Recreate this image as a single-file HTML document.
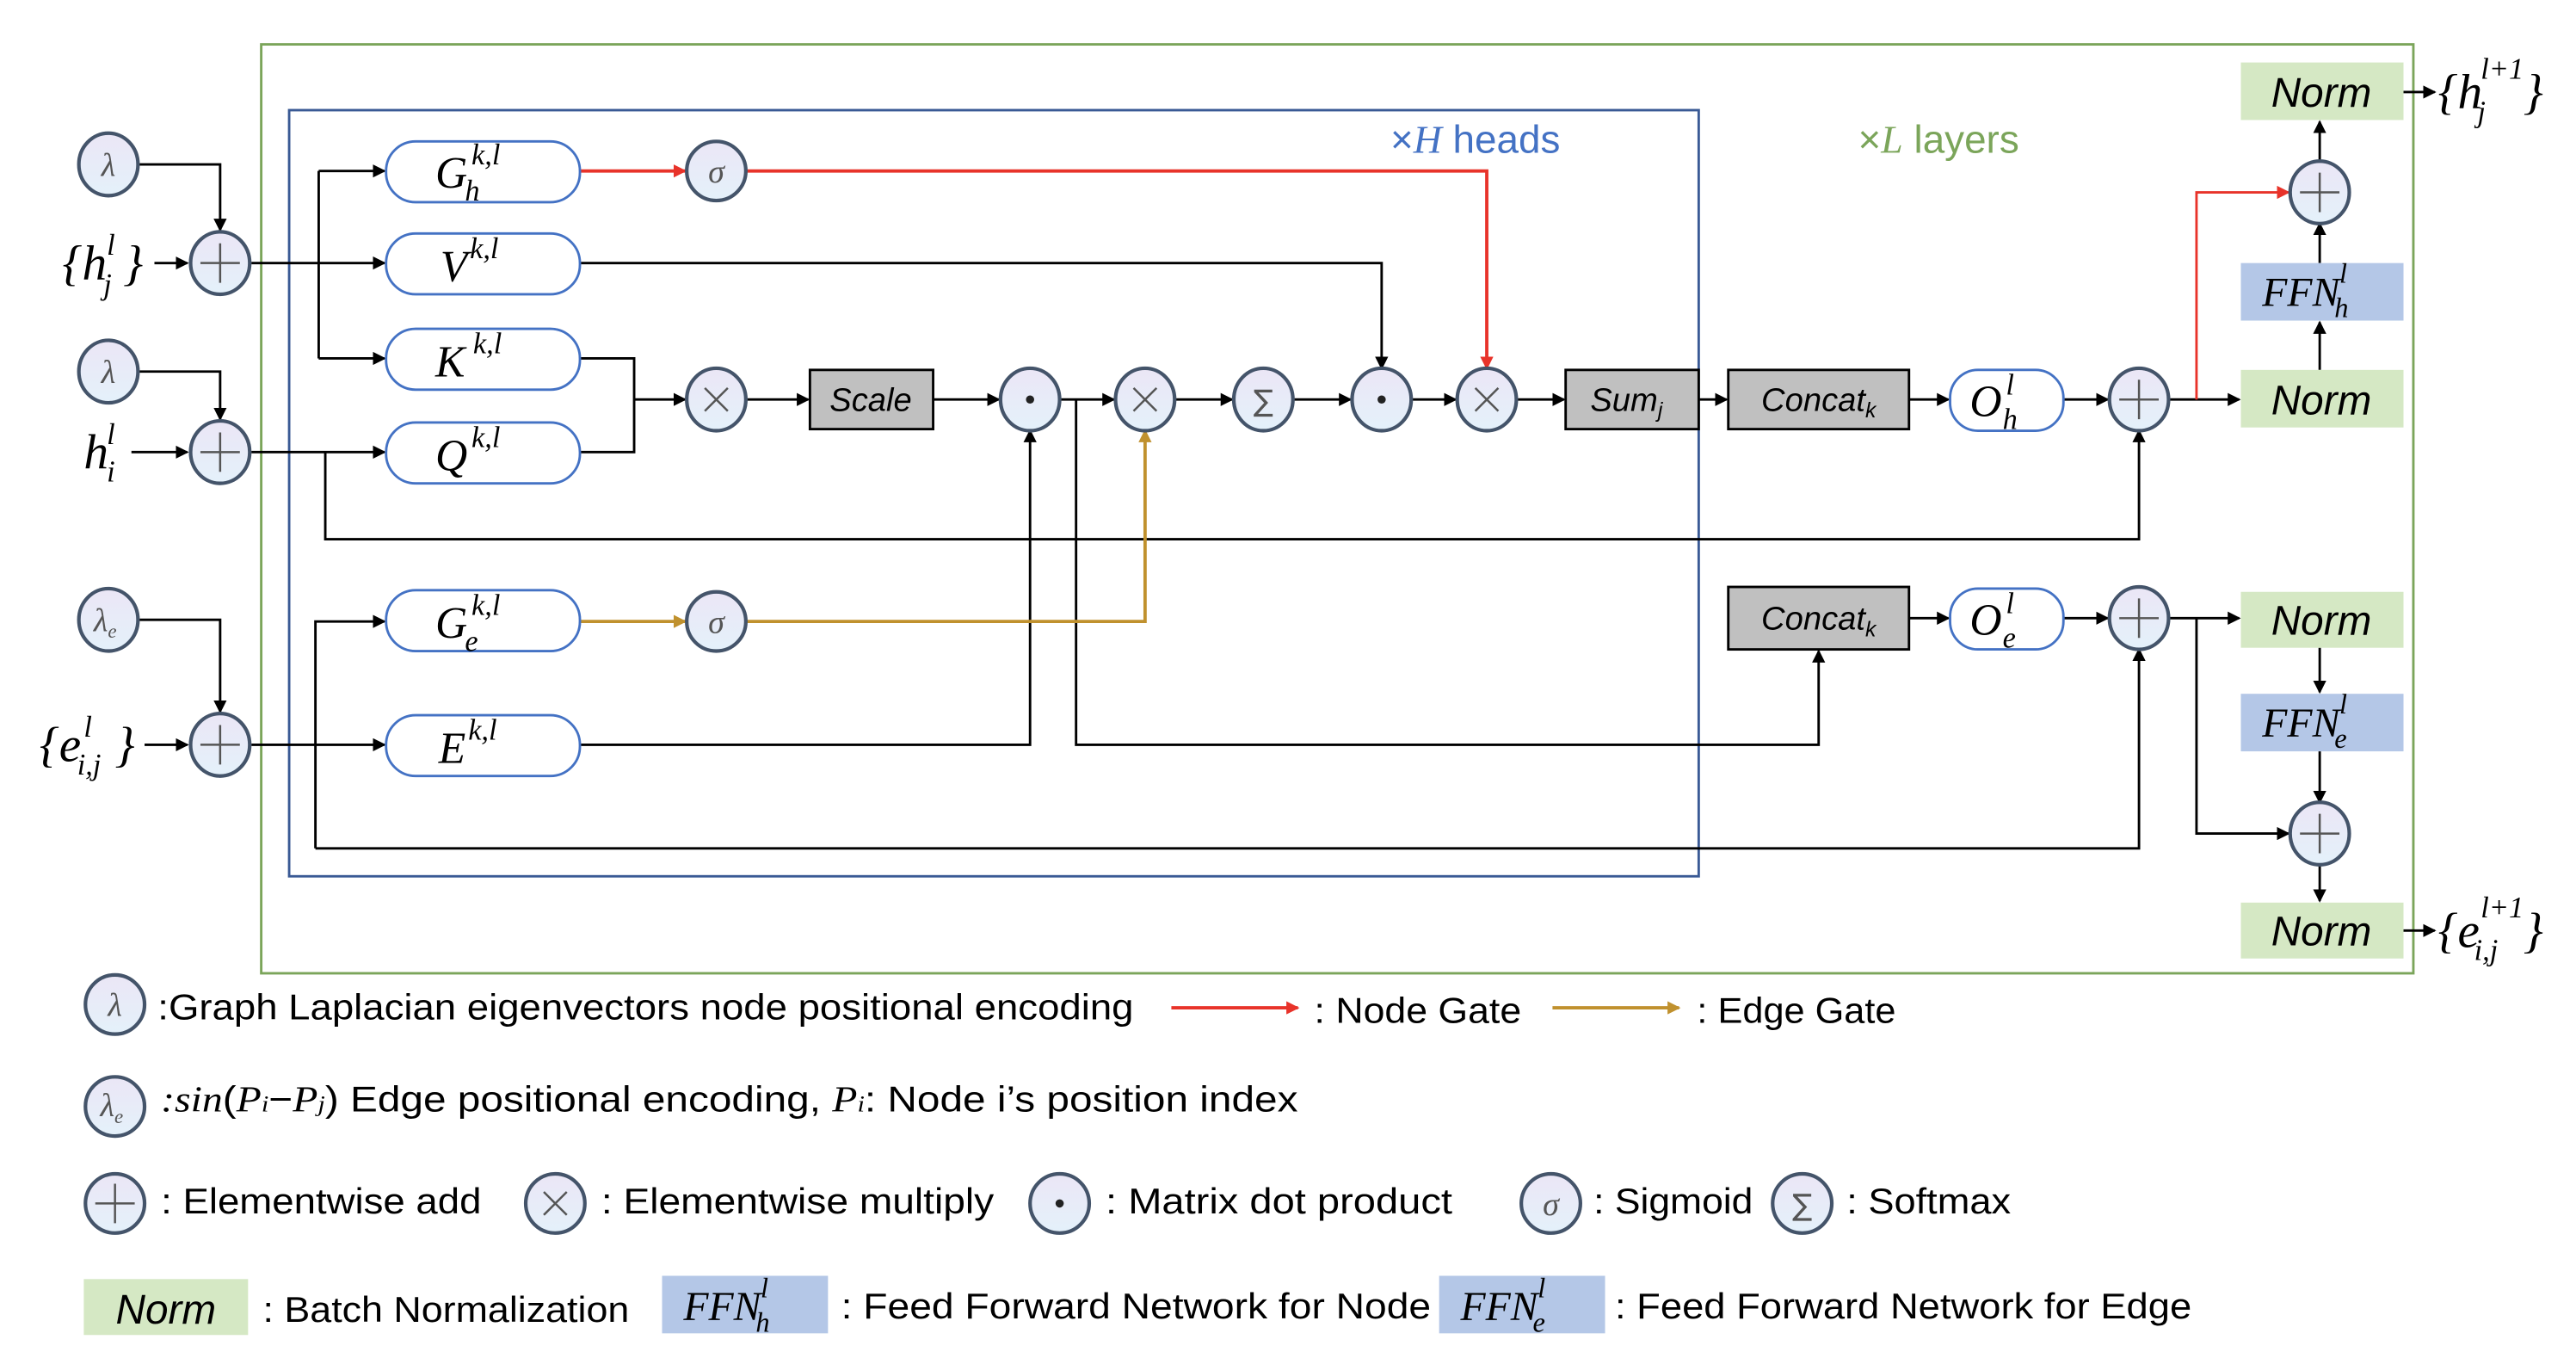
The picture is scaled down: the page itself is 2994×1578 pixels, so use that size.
<!DOCTYPE html>
<html><head><meta charset="utf-8"><style>
html,body{margin:0;padding:0;background:#fff;}
svg{display:block;}
</style></head><body>
<svg width="2994" height="1578" viewBox="0 0 1568 826" preserveAspectRatio="none" xmlns="http://www.w3.org/2000/svg">
<defs>
<linearGradient id="cg" x1="0" y1="0" x2="0" y2="1"><stop offset="0" stop-color="#ebe6f6"/><stop offset="1" stop-color="#e4f1fa"/></linearGradient>
<marker id="a" markerWidth="8" markerHeight="8" refX="7" refY="4" orient="auto" markerUnits="userSpaceOnUse"><path d="M0,0L8,4L0,8z" fill="#000"/></marker>
<marker id="ar" markerWidth="8" markerHeight="8" refX="7" refY="4" orient="auto" markerUnits="userSpaceOnUse"><path d="M0,0L8,4L0,8z" fill="#e8332a"/></marker>
<marker id="ag" markerWidth="8" markerHeight="8" refX="7" refY="4" orient="auto" markerUnits="userSpaceOnUse"><path d="M0,0L8,4L0,8z" fill="#c0912e"/></marker>
</defs>
<rect x="159" y="27" width="1310" height="565" fill="none" stroke="#7ba55a" stroke-width="1.5"/>
<rect x="176" y="67" width="858" height="466" fill="none" stroke="#3a5a95" stroke-width="1.5"/>
<text x="898" y="93" style="font-family:'Liberation Sans',sans-serif" font-size="24" fill="#4472c4" text-anchor="middle">×<tspan style="font-family:'Liberation Serif',serif;font-style:italic">H</tspan> heads</text>
<text x="1180" y="93" style="font-family:'Liberation Sans',sans-serif" font-size="24" fill="#7ba55a" text-anchor="middle">×<tspan style="font-family:'Liberation Serif',serif;font-style:italic">L</tspan> layers</text>

<g fill="none" stroke="#000" stroke-width="1.5">
<path d="M84,100H134V140" marker-end="url(#a)"/>
<path d="M84,226H134V255" marker-end="url(#a)"/>
<path d="M84,377H134V433" marker-end="url(#a)"/>
<path d="M94,160H114" marker-end="url(#a)"/>
<path d="M80,275H114" marker-end="url(#a)"/>
<path d="M88,453H114" marker-end="url(#a)"/>
<path d="M153,160H234" marker-end="url(#a)"/>
<path d="M194,104V218"/>
<path d="M194,104H234" marker-end="url(#a)"/>
<path d="M194,218H234" marker-end="url(#a)"/>
<path d="M153,275H234" marker-end="url(#a)"/>
<path d="M198,275V328H1302V262" marker-end="url(#a)"/>
<path d="M153,453H234" marker-end="url(#a)"/>
<path d="M192,516V378H234" marker-end="url(#a)"/>
<path d="M192,516H1302V395" marker-end="url(#a)"/>
<path d="M353,218H386V275H353"/>
<path d="M386,243H417" marker-end="url(#a)"/>
<path d="M454,243H492" marker-end="url(#a)"/>
<path d="M568,243H608" marker-end="url(#a)"/>
<path d="M646,243H678" marker-end="url(#a)"/>
<path d="M715,243H750" marker-end="url(#a)"/>
<path d="M787,243H822" marker-end="url(#a)"/>
<path d="M859,243H886" marker-end="url(#a)"/>
<path d="M923,243H952" marker-end="url(#a)"/>
<path d="M1034,243H1051" marker-end="url(#a)"/>
<path d="M1162,243H1186" marker-end="url(#a)"/>
<path d="M1256,243H1283" marker-end="url(#a)"/>
<path d="M1321,243H1363" marker-end="url(#a)"/>
<path d="M353,160H841V224" marker-end="url(#a)"/>
<path d="M353,453H627V262" marker-end="url(#a)"/>
<path d="M655,243V453H1107V396" marker-end="url(#a)"/>
<path d="M1162,376H1186" marker-end="url(#a)"/>
<path d="M1256,376H1283" marker-end="url(#a)"/>
<path d="M1321,376H1363" marker-end="url(#a)"/>
<path d="M1412,225V196" marker-end="url(#a)"/>
<path d="M1412,160V136" marker-end="url(#a)"/>
<path d="M1412,98V74" marker-end="url(#a)"/>
<path d="M1463,56H1482" marker-end="url(#a)"/>
<path d="M1412,394V421" marker-end="url(#a)"/>
<path d="M1412,457V488" marker-end="url(#a)"/>
<path d="M1412,526V548" marker-end="url(#a)"/>
<path d="M1463,566H1482" marker-end="url(#a)"/>
<path d="M1337,376V507H1393" marker-end="url(#a)"/>
</g>
<path d="M1337,243V117H1393" fill="none" stroke="#e8332a" stroke-width="1.5" marker-end="url(#ar)"/>
<path d="M353,104H417" fill="none" stroke="#e8332a" stroke-width="2" marker-end="url(#ar)"/>
<path d="M454,104H905V224" fill="none" stroke="#e8332a" stroke-width="2" marker-end="url(#ar)"/>
<path d="M353,378H417" fill="none" stroke="#c0912e" stroke-width="2" marker-end="url(#ag)"/>
<path d="M454,378H697V262" fill="none" stroke="#c0912e" stroke-width="2" marker-end="url(#ag)"/>

<g fill="#fff" stroke="#4472c4" stroke-width="1.5">
<rect x="235" y="86" width="118" height="37" rx="18"/>
<rect x="235" y="142" width="118" height="37" rx="18"/>
<rect x="235" y="200" width="118" height="37" rx="18"/>
<rect x="235" y="257" width="118" height="37" rx="18"/>
<rect x="235" y="359" width="118" height="37" rx="18"/>
<rect x="235" y="435" width="118" height="37" rx="18"/>
<rect x="1187" y="225" width="69" height="37" rx="17"/>
<rect x="1187" y="358" width="69" height="37" rx="17"/>
</g>
<g style="font-family:'Liberation Serif',serif;font-style:italic" fill="#000">
<g font-size="27">
<text x="265" y="114">G</text><text x="268" y="171">V</text><text x="265" y="229">K</text>
<text x="265" y="286">Q</text><text x="265" y="388">G</text><text x="267" y="464">E</text>
<text x="1199" y="253">O</text><text x="1199" y="386">O</text>
</g>
<g font-size="30">
<text x="38" y="170">{h</text><text x="75" y="170">}</text>
<text x="51" y="285">h</text>
<text x="24" y="463">{e</text><text x="70" y="463">}</text>
<text x="1484" y="66">{h</text><text x="1536" y="66">}</text>
<text x="1484" y="576">{e</text><text x="1536" y="576">}</text>
</g>
<g font-size="18">
<text x="287" y="100">k,l</text><text x="283" y="122">h</text>
<text x="286" y="157">k,l</text>
<text x="288" y="215">k,l</text>
<text x="287" y="272">k,l</text>
<text x="287" y="374">k,l</text><text x="283" y="396">e</text>
<text x="285" y="450">k,l</text>
<text x="1221" y="240">l</text><text x="1219" y="261">h</text>
<text x="1221" y="373">l</text><text x="1219" y="394">e</text>
<text x="65" y="155">l</text><text x="63" y="179">j</text>
<text x="65" y="270">l</text><text x="65" y="293">i</text>
<text x="51" y="448">l</text><text x="47" y="471">i,j</text>
<text x="1510" y="48">l+1</text><text x="1508" y="74">j</text>
<text x="1510" y="558">l+1</text><text x="1506" y="584">i,j</text>
</g>
</g>

<g fill="#c0c0c0" stroke="#000" stroke-width="1.5">
<rect x="493" y="225" width="75" height="36"/>
<rect x="953" y="225" width="81" height="36"/>
<rect x="1052" y="225" width="110" height="36"/>
<rect x="1052" y="357" width="110" height="38"/>
</g>
<g style="font-family:'Liberation Sans',sans-serif;font-style:italic" font-size="20" text-anchor="middle">
<text x="530" y="250">Scale</text>
<text x="990" y="250">Sum<tspan font-size="13" dy="4">j</tspan></text>
<text x="1107" y="250">Concat<tspan font-size="13" dy="4">k</tspan></text>
<text x="1107" y="383">Concat<tspan font-size="13" dy="4">k</tspan></text>
</g>

<rect x="1364" y="38" width="99" height="35" fill="#d5e8c4"/>
<rect x="1364" y="225" width="99" height="35" fill="#d5e8c4"/>
<rect x="1364" y="360" width="99" height="34" fill="#d5e8c4"/>
<rect x="1364" y="549" width="99" height="34" fill="#d5e8c4"/>
<rect x="1364" y="160" width="99" height="35" fill="#b4c7e7"/>
<rect x="1364" y="422" width="99" height="35" fill="#b4c7e7"/>
<rect x="51" y="778" width="100" height="34" fill="#d5e8c4"/>
<rect x="403" y="776" width="101" height="35" fill="#b4c7e7"/>
<rect x="876" y="776" width="101" height="35" fill="#b4c7e7"/>
<g style="font-family:'Liberation Sans',sans-serif;font-style:italic" font-size="25" text-anchor="middle">
<text x="1413" y="65">Norm</text>
<text x="1413" y="252">Norm</text>
<text x="1413" y="386">Norm</text>
<text x="1413" y="575">Norm</text>
<text x="101" y="805">Norm</text>
</g>
<g style="font-family:'Liberation Serif',serif;font-style:italic">
<text x="1377" y="186" font-size="25">FFN</text><text x="1424" y="172" font-size="17">l</text><text x="1421" y="193" font-size="17">h</text>
<text x="1377" y="448" font-size="25">FFN</text><text x="1424" y="434" font-size="17">l</text><text x="1421" y="455" font-size="17">e</text>
<text x="416" y="803" font-size="25">FFN</text><text x="463" y="789" font-size="17">l</text><text x="460" y="810" font-size="17">h</text>
<text x="889" y="803" font-size="25">FFN</text><text x="936" y="789" font-size="17">l</text><text x="933" y="810" font-size="17">e</text>
</g>

<g stroke="#44546a" stroke-width="2.2" fill="url(#cg)">
<ellipse cx="66" cy="100" rx="18" ry="19"/>
<ellipse cx="66" cy="226" rx="18" ry="19"/>
<ellipse cx="66" cy="377" rx="18" ry="19"/>
<ellipse cx="134" cy="160" rx="18" ry="19"/>
<ellipse cx="134" cy="275" rx="18" ry="19"/>
<ellipse cx="134" cy="453" rx="18" ry="19"/>
<ellipse cx="436" cy="104" rx="18" ry="18"/>
<ellipse cx="436" cy="378" rx="18" ry="18"/>
<ellipse cx="436" cy="243" rx="18" ry="19"/>
<ellipse cx="627" cy="243" rx="18" ry="19"/>
<ellipse cx="697" cy="243" rx="18" ry="19"/>
<ellipse cx="769" cy="243" rx="18" ry="19"/>
<ellipse cx="841" cy="243" rx="18" ry="19"/>
<ellipse cx="905" cy="243" rx="18" ry="19"/>
<ellipse cx="1302" cy="243" rx="18" ry="19"/>
<ellipse cx="1302" cy="376" rx="18" ry="19"/>
<ellipse cx="1412" cy="117" rx="18" ry="19"/>
<ellipse cx="1412" cy="507" rx="18" ry="19"/>
<ellipse cx="70" cy="611" rx="18" ry="18"/>
<ellipse cx="70" cy="673" rx="18" ry="18"/>
<ellipse cx="70" cy="732" rx="18" ry="18"/>
<ellipse cx="338" cy="732" rx="18" ry="18"/>
<ellipse cx="645" cy="732" rx="18" ry="18"/>
<ellipse cx="944" cy="732" rx="18" ry="18"/>
<ellipse cx="1097" cy="732" rx="18" ry="18"/>
</g>
<g stroke="#555" stroke-width="1.3" fill="none">
<path d="M134,148V172M122,160H146"/><path d="M134,263V287M122,275H146"/><path d="M134,441V465M122,453H146"/>
<path d="M1302,231V255M1290,243H1314"/><path d="M1302,364V388M1290,376H1314"/>
<path d="M1412,105V129M1400,117H1424"/><path d="M1412,495V519M1400,507H1424"/>
<path d="M70,720V744M58,732H82"/>
<path d="M429,236L443,250M443,236L429,250"/><path d="M690,236L704,250M704,236L690,250"/><path d="M898,236L912,250M912,236L898,250"/>
<path d="M331,725L345,739M345,725L331,739"/>
</g>
<g fill="#222"><circle cx="627" cy="243" r="2.5"/><circle cx="841" cy="243" r="2.5"/><circle cx="645" cy="732" r="2.5"/></g>
<g style="font-family:'Liberation Serif',serif;font-style:italic" font-size="20" fill="#555" text-anchor="middle">
<text x="66" y="107">λ</text><text x="66" y="233">λ</text>
<text x="64" y="384">λ<tspan font-size="12" dy="4">e</tspan></text>
<text x="436" y="111">σ</text><text x="436" y="385">σ</text>
<text x="70" y="618">λ</text>
<text x="68" y="679">λ<tspan font-size="12" dy="4">e</tspan></text>
<text x="944" y="739">σ</text>
</g>
<g style="font-family:'DejaVu Sans',sans-serif" font-size="18" fill="#555" text-anchor="middle">
<text x="769" y="250">∑</text><text x="1097" y="739">∑</text>
</g>

<g style="font-family:'Liberation Sans',sans-serif" font-size="22" fill="#000">
<text x="96" y="620" textLength="594" lengthAdjust="spacingAndGlyphs">:Graph Laplacian eigenvectors node positional encoding</text>
<text x="800" y="622" textLength="126" lengthAdjust="spacingAndGlyphs">: Node Gate</text>
<text x="1033" y="622" textLength="121" lengthAdjust="spacingAndGlyphs">: Edge Gate</text>
<text x="98" y="676" textLength="692" lengthAdjust="spacingAndGlyphs"><tspan style="font-family:'Liberation Serif',serif;font-style:italic">:sin</tspan>(<tspan style="font-family:'Liberation Serif',serif;font-style:italic">P</tspan><tspan font-size="14" style="font-family:'Liberation Serif',serif;font-style:italic">i</tspan>−<tspan style="font-family:'Liberation Serif',serif;font-style:italic">P</tspan><tspan font-size="14" style="font-family:'Liberation Serif',serif;font-style:italic">j</tspan>) Edge positional encoding, <tspan style="font-family:'Liberation Serif',serif;font-style:italic">P</tspan><tspan font-size="14" style="font-family:'Liberation Serif',serif;font-style:italic">i</tspan>: Node i’s position index</text>
<text x="98" y="738" textLength="195" lengthAdjust="spacingAndGlyphs">: Elementwise add</text>
<text x="366" y="738" textLength="239" lengthAdjust="spacingAndGlyphs">: Elementwise multiply</text>
<text x="673" y="738" textLength="211" lengthAdjust="spacingAndGlyphs">: Matrix dot product</text>
<text x="970" y="738" textLength="97" lengthAdjust="spacingAndGlyphs">: Sigmoid</text>
<text x="1124" y="738" textLength="100" lengthAdjust="spacingAndGlyphs">: Softmax</text>
<text x="160" y="804" textLength="223" lengthAdjust="spacingAndGlyphs">: Batch Normalization</text>
<text x="512" y="802" textLength="359" lengthAdjust="spacingAndGlyphs">: Feed Forward Network for Node</text>
<text x="983" y="802" textLength="351" lengthAdjust="spacingAndGlyphs">: Feed Forward Network for Edge</text>
</g>
<path d="M713,613H790" stroke="#e8332a" stroke-width="2" fill="none" marker-end="url(#ar)"/>
<path d="M945,613H1022" stroke="#c0912e" stroke-width="2" fill="none" marker-end="url(#ag)"/>
</svg>
</body></html>
